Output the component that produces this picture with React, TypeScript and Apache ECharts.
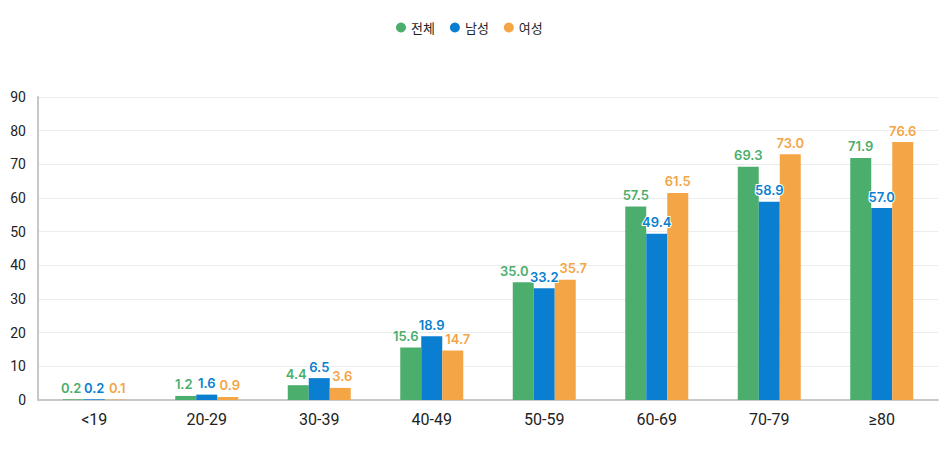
import { useEffect, useRef } from 'react';
import * as echarts from 'echarts';

const categories = ['<19', '20-29', '30-39', '40-49', '50-59', '60-69', '70-79', '≥80'];
const totalData = [0.2, 1.2, 4.4, 15.6, 35.0, 57.5, 69.3, 71.9];
const maleData = [0.2, 1.6, 6.5, 18.9, 33.2, 49.4, 58.9, 57.0];
const femaleData = [0.1, 0.9, 3.6, 14.7, 35.7, 61.5, 73.0, 76.6];
const seriesNames = ['전체', '남성', '여성'];
const colors = ['#4cae6c', '#0a7fd1', '#f4a545'];

const FONT = "Roboto, 'Noto Sans CJK KR', sans-serif";
const LFONT = "Inter, Roboto, sans-serif";
const KFONT = "'Noto Sans CJK KR', sans-serif";

// nudge labels sideways where neighbouring values would collide
const labelNudge: Record<number, number>[] = [
  { 0: -2, 1: -2, 2: -2, 3: -5, 4: -9 },
  {},
  { 0: 2, 1: 2, 2: 2, 3: 5, 4: 8 },
];

const App = () => {
  const chartRef = useRef<HTMLDivElement>(null);

  useEffect(() => {
    if (!chartRef.current) return;
    const chart = echarts.init(chartRef.current, undefined, { renderer: 'svg' });

    const makeSeries = (idx: number, data: number[]) => ({
      name: seriesNames[idx],
      type: 'bar',
      data: data.map((v, i) =>
        labelNudge[idx][i] !== undefined ? { value: v, label: { offset: [labelNudge[idx][i], 0] } } : v
      ),
      barGap: '0%',
      barCategoryGap: '44%',
      itemStyle: { color: colors[idx] },
      label: {
        show: true,
        position: 'top',
        distance: 5,
        color: colors[idx],
        fontSize: 13,
        fontWeight: 600,
        fontFamily: LFONT,
        formatter: (p: any) => Number(p.value).toFixed(1),
        textBorderColor: idx === 1 ? '#fff' : 'transparent',
        textBorderWidth: idx === 1 ? 2 : 0,
      },
    });

    chart.setOption({
      animation: false,
      textStyle: { fontFamily: FONT },
      legend: {
        top: 16,
        left: 391,
        icon: 'circle',
        itemWidth: 10,
        itemHeight: 10,
        itemGap: 15,
        textStyle: { fontSize: 13, color: '#222', fontFamily: KFONT },
        data: seriesNames,
      },
      grid: { left: 38, right: 12, top: 97, bottom: 70 },
      xAxis: {
        type: 'category',
        data: categories,
        axisLine: { lineStyle: { color: '#c8c8c8', width: 2 } },
        axisTick: { show: false },
        axisLabel: { fontSize: 16, color: '#222', margin: 11, fontFamily: FONT },
      },
      yAxis: {
        type: 'value',
        min: 0,
        max: 90,
        interval: 10,
        axisLine: { show: true, lineStyle: { color: '#c8c8c8', width: 2 } },
        axisTick: { show: false },
        splitLine: { lineStyle: { color: '#ececec' } },
        axisLabel: { fontSize: 14, color: '#222', margin: 12, fontFamily: FONT },
      },
      series: [makeSeries(0, totalData), makeSeries(1, maleData), makeSeries(2, femaleData)],
    });

    return () => chart.dispose();
  }, []);

  return <div ref={chartRef} style={{ width: 950, height: 470, margin: -8 }} />;
};

export default App;
